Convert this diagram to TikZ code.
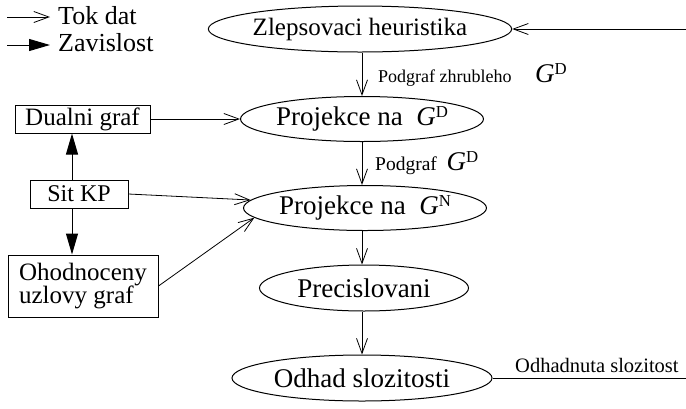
\documentclass[tikz,border=0pt]{standalone}
\usepackage{fontspec}
\setmainfont{Liberation Serif}
\usetikzlibrary{shapes.geometric,arrows.meta}
\newcommand\gsup[2]{{\fontsize{#2}{#2}\selectfont\textit{G}\raisebox{0.3em}{\fontsize{0.62em}{0.62em}\selectfont #1}}}
\begin{document}
\begin{tikzpicture}[x=1pt,y=-1pt,
  big/.style={font=\fontsize{25}{27}\selectfont},
  bigger/.style={font=\fontsize{27}{29}\selectfont},
  proc/.style={ellipse, draw, line width=1pt, inner sep=0pt, bigger},
  box/.style={rectangle, draw, line width=1pt, inner sep=0pt, big},
  flow/.style={line width=0.8pt, -{Straight Barb[length=15pt,width=11pt,line width=0.8pt]}},
  dep/.style={line width=1pt, -{Triangle[length=21pt,width=12pt]}},
  lbl/.style={font=\fontsize{19.5}{21}\selectfont, anchor=west, inner sep=0pt}]
\useasboundingbox (0,0) rectangle (686,408);

% legend
\coordinate (l1s) at (7,17); \coordinate (l1e) at (50,17);
\coordinate (l2s) at (7,45); \coordinate (l2e) at (50,45);
\draw[flow] (l1s) -- (l1e);
\draw[dep] (l2s) -- (l2e);
\node[font=\fontsize{26}{28}\selectfont, anchor=west, inner sep=0pt] (tok) at (58,16) {Tok dat};
\node[font=\fontsize{26}{28}\selectfont, anchor=west, inner sep=0pt] (zav) at (58,43) {Zavislost};

% ellipses
\node[proc, big, minimum width=264, minimum height=46] (zlep) at (360,29) {Zlepsovaci heuristika};
\node[proc, minimum width=229, minimum height=45] (pgd) at (362,119) {Projekce na\hspace{0.5em}\gsup{D}{27}};
\node[proc, minimum width=240, minimum height=45] (pgn) at (365,208) {Projekce na\hspace{0.5em}\gsup{N}{27}};
\node[proc, minimum width=209, minimum height=46] (prec) at (364,288) {Precislovani};
\node[proc, minimum width=260, minimum height=46] (odh) at (362,378) {Odhad slozitosti};

% boxes
\node[box, minimum width=135, minimum height=28] (dual) at (82.5,119) {Dualni graf};
\node[box, font=\fontsize{24}{26}\selectfont, minimum width=98, minimum height=28] (sit) at (79,194) {Sit KP};
\node[box, minimum width=150, minimum height=62, align=left] (ohod) at (83,286) {Ohodnoceny\\[-4pt]uzlovy graf};

% right side in/out
\coordinate (inR) at (686,29);
\coordinate (outR) at (686,378);
\draw[flow] (inR) -- (zlep.east);
\draw[line width=0.8pt] (odh.east) -- (outR);
\node[lbl, font=\fontsize{20.5}{22}\selectfont] (lodh) at (515,365) {Odhadnuta slozitost};

% vertical flow
\draw[flow] (zlep.south -| pgd.north) -- (pgd.north);
\draw[flow] (pgd.south) -- (pgn.north -| pgd.south);
\draw[flow] (pgn.south -| pgd.south) -- (prec.north -| pgd.south);
\draw[flow] (prec.south -| pgd.south) -- (odh.north -| pgd.south);
\node[lbl, font=\fontsize{18}{20}\selectfont] (l1) at (378,75) {Podgraf zhrubleho\hspace{1.3em}\gsup{D}{27}};
\node[lbl] (l2) at (375,163) {Podgraf\hspace{0.5em}\gsup{D}{27}};

% left side
\draw[flow] (dual.east) -- (pgd.west);
\draw[flow] (sit.east) -- (pgn.176);
\draw[flow] (ohod.east) -- (pgn.185);
\draw[dep] (sit.north -| 72,0) -- (dual.south -| 72,0);
\draw[dep] (sit.south -| 72,0) -- (ohod.north -| 72,0);
\end{tikzpicture}
\end{document}
